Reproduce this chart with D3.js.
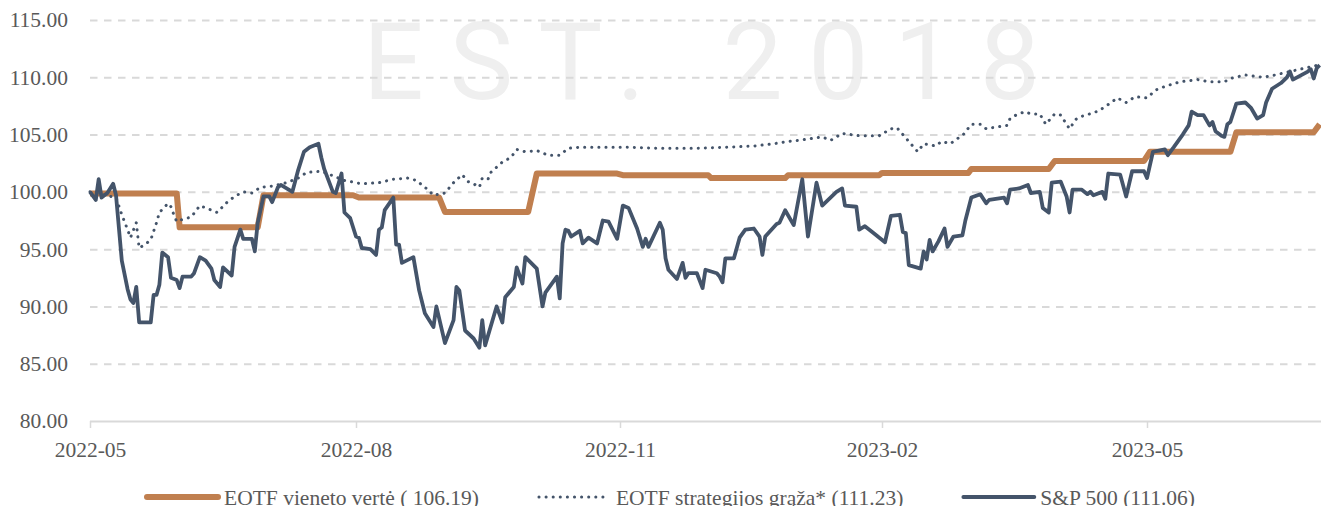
<!DOCTYPE html>
<html>
<head>
<meta charset="utf-8">
<script src="https://cdn.jsdelivr.net/npm/d3@7"></script>
<style>
  html, body { margin: 0; padding: 0; background: #fff; }
  svg { display: block; }
</style>
</head>
<body>
<svg id="chart" width="1321" height="506"></svg>
<script>
// axis categories / ticks
const xTickLabels = ['2022-05', '2022-08', '2022-11', '2023-02', '2023-05'];
const yTicks = [80, 85, 90, 95, 100, 105, 110, 115];

const seriesNames = ['EOTF vieneto vertė ( 106.19)', 'EOTF strategijos grąža* (111.23)', 'S&P 500 (111.06)'];

// EOTF unit value (step line)
const unitData = [
  ['2022-05-01', 99.85], ['2022-05-31', 99.85], ['2022-06-01', 96.9], ['2022-06-28', 96.9],
  ['2022-06-30', 99.7], ['2022-07-31', 99.7], ['2022-08-02', 99.5], ['2022-08-30', 99.5],
  ['2022-09-01', 98.25], ['2022-09-30', 98.25], ['2022-10-03', 101.6], ['2022-10-31', 101.6],
  ['2022-11-02', 101.45], ['2022-12-02', 101.45], ['2022-12-03', 101.2], ['2022-12-29', 101.2],
  ['2022-12-30', 101.45], ['2023-01-31', 101.45], ['2023-02-01', 101.65], ['2023-03-02', 101.65],
  ['2023-03-03', 102.0], ['2023-03-29', 102.0], ['2023-03-31', 102.7], ['2023-04-30', 102.7],
  ['2023-05-02', 103.5], ['2023-05-29', 103.5], ['2023-05-31', 105.2], ['2023-06-26', 105.2],
  ['2023-06-28', 105.9]
];

// EOTF strategy return (dotted)
const stratData = [
  ['2022-05-01', 100.0], ['2022-05-10', 99.5], ['2022-05-12', 98.0], ['2022-05-14', 96.7],
  ['2022-05-15', 96.0], ['2022-05-17', 97.3], ['2022-05-18', 95.1], ['2022-05-20', 95.4],
  ['2022-05-22', 95.8], ['2022-05-24', 97.3], ['2022-05-25', 98.2], ['2022-05-28', 99.0],
  ['2022-05-29', 98.7], ['2022-05-30', 98.0], ['2022-05-31', 97.4], ['2022-06-02', 97.6],
  ['2022-06-05', 97.8], ['2022-06-08', 98.8], ['2022-06-11', 98.5], ['2022-06-14', 98.2],
  ['2022-06-17', 99.0], ['2022-06-20', 99.6], ['2022-06-23', 100.0], ['2022-06-26', 99.9],
  ['2022-06-29', 100.4], ['2022-07-03', 100.5], ['2022-07-08', 100.8], ['2022-07-12', 101.2],
  ['2022-07-15', 101.7], ['2022-07-20', 101.8], ['2022-07-28', 101.0], ['2022-08-03', 100.7],
  ['2022-08-09', 100.8], ['2022-08-14', 101.1], ['2022-08-19', 101.2], ['2022-08-22', 101.0],
  ['2022-08-26', 100.2], ['2022-08-28', 99.7], ['2022-09-01', 99.9], ['2022-09-04', 100.8],
  ['2022-09-07', 101.5], ['2022-09-09', 100.9], ['2022-09-11', 100.7], ['2022-09-13', 100.4],
  ['2022-09-14', 101.2], ['2022-09-16', 101.1], ['2022-09-17', 101.7], ['2022-09-21', 102.6],
  ['2022-09-24', 103.0], ['2022-09-26', 103.7], ['2022-09-29', 103.5], ['2022-10-03', 103.6],
  ['2022-10-07', 103.2], ['2022-10-11', 103.2], ['2022-10-14', 103.8], ['2022-10-18', 103.9],
  ['2022-10-24', 103.9], ['2022-11-03', 103.9], ['2022-11-15', 103.8], ['2022-11-27', 103.8],
  ['2022-12-09', 103.9], ['2022-12-18', 104.0], ['2022-12-25', 104.2], ['2022-12-30', 104.4],
  ['2023-01-03', 104.5], ['2023-01-11', 104.8], ['2023-01-14', 104.5], ['2023-01-18', 105.1],
  ['2023-01-24', 104.9], ['2023-01-31', 104.9], ['2023-02-04', 105.5], ['2023-02-06', 105.6],
  ['2023-02-09', 104.7], ['2023-02-13', 103.5], ['2023-02-15', 104.2], ['2023-02-19', 104.0],
  ['2023-02-21', 104.4], ['2023-02-24', 104.2], ['2023-02-26', 104.6], ['2023-02-28', 104.9],
  ['2023-03-03', 105.9], ['2023-03-06', 105.9], ['2023-03-08', 105.5], ['2023-03-10', 105.6],
  ['2023-03-15', 105.8], ['2023-03-16', 106.4], ['2023-03-18', 106.7], ['2023-03-21', 107.0],
  ['2023-03-23', 106.8], ['2023-03-26', 106.8], ['2023-03-28', 105.9], ['2023-03-31', 106.8],
  ['2023-04-02', 106.7], ['2023-04-05', 105.5], ['2023-04-07', 106.3], ['2023-04-08', 106.5],
  ['2023-04-13', 106.9], ['2023-04-15', 107.1], ['2023-04-19', 107.8], ['2023-04-21', 108.2],
  ['2023-04-24', 107.8], ['2023-04-27', 108.3], ['2023-05-01', 108.2], ['2023-05-04', 108.9],
  ['2023-05-07', 109.2], ['2023-05-12', 109.6], ['2023-05-18', 109.8], ['2023-05-22', 109.6],
  ['2023-05-27', 109.6], ['2023-05-29', 109.9], ['2023-06-03', 110.2], ['2023-06-09', 110.0],
  ['2023-06-13', 110.2], ['2023-06-18', 110.5], ['2023-06-23', 110.8], ['2023-06-28', 111.1]
];

// S&P 500
const spData = [
  ['2022-05-01', 100.0], ['2022-05-03', 99.3], ['2022-05-04', 101.1], ['2022-05-05', 99.5],
  ['2022-05-07', 99.9], ['2022-05-09', 100.7], ['2022-05-10', 99.7], ['2022-05-12', 94.0],
  ['2022-05-14', 91.5], ['2022-05-15', 90.6], ['2022-05-16', 90.3], ['2022-05-17', 91.7],
  ['2022-05-18', 88.6], ['2022-05-22', 88.6], ['2022-05-23', 91.0], ['2022-05-24', 91.0],
  ['2022-05-25', 91.9], ['2022-05-26', 94.7], ['2022-05-28', 94.3], ['2022-05-29', 92.5],
  ['2022-05-31', 92.3], ['2022-06-01', 91.6], ['2022-06-02', 92.6], ['2022-06-05', 92.6],
  ['2022-06-06', 92.9], ['2022-06-08', 94.3], ['2022-06-10', 94.0], ['2022-06-12', 93.3],
  ['2022-06-13', 92.3], ['2022-06-15', 91.7], ['2022-06-16', 93.4], ['2022-06-19', 92.7],
  ['2022-06-20', 95.2], ['2022-06-22', 96.7], ['2022-06-23', 95.9], ['2022-06-26', 95.9],
  ['2022-06-27', 94.8], ['2022-06-28', 97.3], ['2022-06-30', 99.6], ['2022-07-02', 99.6],
  ['2022-07-03', 99.1], ['2022-07-05', 100.4], ['2022-07-06', 100.6], ['2022-07-10', 100.0],
  ['2022-07-12', 101.9], ['2022-07-14', 103.5], ['2022-07-16', 103.9], ['2022-07-19', 104.2],
  ['2022-07-20', 103.0], ['2022-07-21', 102.0], ['2022-07-24', 100.0], ['2022-07-25', 99.9],
  ['2022-07-27', 101.6], ['2022-07-28', 98.2], ['2022-07-30', 97.7], ['2022-08-01', 96.1],
  ['2022-08-02', 96.0], ['2022-08-03', 95.1], ['2022-08-06', 95.0], ['2022-08-08', 94.5],
  ['2022-08-09', 96.7], ['2022-08-10', 96.9], ['2022-08-11', 98.4], ['2022-08-14', 99.5],
  ['2022-08-15', 95.4], ['2022-08-16', 95.4], ['2022-08-17', 93.8], ['2022-08-21', 94.3],
  ['2022-08-23', 91.4], ['2022-08-25', 89.4], ['2022-08-28', 88.2], ['2022-08-29', 90.0],
  ['2022-09-01', 86.8], ['2022-09-04', 88.8], ['2022-09-05', 91.7], ['2022-09-06', 91.4],
  ['2022-09-08', 87.9], ['2022-09-11', 87.2], ['2022-09-13', 86.4], ['2022-09-14', 88.8],
  ['2022-09-15', 86.6], ['2022-09-19', 90.0], ['2022-09-21', 88.6], ['2022-09-22', 90.8],
  ['2022-09-25', 91.7], ['2022-09-26', 93.4], ['2022-09-28', 92.0], ['2022-09-29', 94.3],
  ['2022-10-03', 93.3], ['2022-10-05', 90.0], ['2022-10-06', 91.2], ['2022-10-10', 92.6],
  ['2022-10-11', 90.7], ['2022-10-12', 95.5], ['2022-10-13', 96.7], ['2022-10-14', 96.6],
  ['2022-10-15', 96.1], ['2022-10-18', 96.6], ['2022-10-19', 95.5], ['2022-10-21', 96.0],
  ['2022-10-24', 95.5], ['2022-10-26', 97.5], ['2022-10-28', 97.4], ['2022-10-31', 95.9],
  ['2022-11-02', 98.8], ['2022-11-04', 98.6], ['2022-11-07', 96.8], ['2022-11-09', 95.2],
  ['2022-11-10', 95.9], ['2022-11-11', 95.2], ['2022-11-15', 97.3], ['2022-11-16', 96.7],
  ['2022-11-17', 94.2], ['2022-11-18', 93.2], ['2022-11-21', 92.4], ['2022-11-23', 93.8],
  ['2022-11-24', 92.5], ['2022-11-25', 92.9], ['2022-11-28', 92.9], ['2022-11-30', 91.6],
  ['2022-12-01', 93.2], ['2022-12-05', 92.9], ['2022-12-06', 92.6], ['2022-12-07', 92.1],
  ['2022-12-08', 94.2], ['2022-12-11', 94.2], ['2022-12-13', 96.0], ['2022-12-15', 96.7],
  ['2022-12-18', 96.8], ['2022-12-20', 96.1], ['2022-12-21', 94.5], ['2022-12-22', 96.1],
  ['2022-12-26', 97.2], ['2022-12-27', 97.3], ['2022-12-29', 98.4], ['2023-01-01', 97.1],
  ['2023-01-04', 101.1], ['2023-01-06', 96.1], ['2023-01-09', 100.8], ['2023-01-11', 98.8],
  ['2023-01-16', 100.0], ['2023-01-18', 100.3], ['2023-01-19', 98.8], ['2023-01-23', 98.7],
  ['2023-01-24', 96.7], ['2023-01-26', 97.0], ['2023-01-29', 96.4], ['2023-02-02', 95.6],
  ['2023-02-04', 97.9], ['2023-02-07', 98.0], ['2023-02-08', 96.5], ['2023-02-09', 96.4],
  ['2023-02-10', 93.6], ['2023-02-14', 93.3], ['2023-02-15', 94.8], ['2023-02-16', 94.1],
  ['2023-02-17', 95.8], ['2023-02-18', 94.8], ['2023-02-20', 95.7], ['2023-02-22', 96.8],
  ['2023-02-23', 95.2], ['2023-02-25', 96.1], ['2023-02-28', 96.2], ['2023-03-01', 97.5],
  ['2023-03-03', 99.5], ['2023-03-06', 99.8], ['2023-03-08', 99.0], ['2023-03-09', 99.3],
  ['2023-03-14', 99.5], ['2023-03-15', 99.0], ['2023-03-16', 100.2], ['2023-03-19', 100.3],
  ['2023-03-22', 100.6], ['2023-03-23', 99.9], ['2023-03-26', 100.0], ['2023-03-27', 98.6],
  ['2023-03-29', 98.2], ['2023-03-30', 100.8], ['2023-04-02', 100.9], ['2023-04-04', 99.6],
  ['2023-04-05', 98.2], ['2023-04-06', 100.2], ['2023-04-09', 100.2], ['2023-04-11', 99.8],
  ['2023-04-12', 100.0], ['2023-04-13', 99.7], ['2023-04-16', 100.0], ['2023-04-17', 99.4],
  ['2023-04-18', 101.6], ['2023-04-22', 101.5], ['2023-04-24', 99.6], ['2023-04-26', 101.8],
  ['2023-04-30', 101.8], ['2023-05-01', 101.2], ['2023-05-03', 103.5], ['2023-05-05', 103.6],
  ['2023-05-07', 103.7], ['2023-05-08', 103.2], ['2023-05-10', 103.9], ['2023-05-13', 105.0],
  ['2023-05-15', 105.8], ['2023-05-16', 107.0], ['2023-05-18', 106.7], ['2023-05-20', 106.7],
  ['2023-05-22', 105.8], ['2023-05-23', 106.1], ['2023-05-24', 105.3], ['2023-05-26', 104.9],
  ['2023-05-27', 104.8], ['2023-05-28', 105.9], ['2023-05-29', 106.1], ['2023-05-31', 107.7],
  ['2023-06-03', 107.8], ['2023-06-05', 107.3], ['2023-06-07', 106.4], ['2023-06-09', 106.7],
  ['2023-06-10', 107.8], ['2023-06-12', 109.0], ['2023-06-15', 109.5], ['2023-06-17', 110.0],
  ['2023-06-18', 110.5], ['2023-06-19', 109.8], ['2023-06-24', 110.5], ['2023-06-25', 110.7],
  ['2023-06-26', 109.9], ['2023-06-27', 110.8], ['2023-06-28', 111.06]
];

const svg = d3.select('#chart');
const width = +svg.attr('width');
const height = +svg.attr('height');

const margin = { top: 20, right: 0, bottom: 85, left: 90 };
const innerRight = width - margin.right;
const innerBottom = height - margin.bottom;

const parse = d3.timeParse('%Y-%m');
const parseDay = d3.timeParse('%Y-%m-%d');
const tickDates = xTickLabels.map(parse);

const textColor = '#595959';
const gridColor = '#d9d9d9';
const font = '"Liberation Serif", serif';

// the source axis is a trading-day axis, so the quarterly ticks are not evenly spaced in days
const xScale = d3.scaleTime()
  .domain(tickDates)
  .range([margin.left, 356, 620, 882, 1147]);

const yScale = d3.scaleLinear()
  .domain([80, 115])
  .range([innerBottom, margin.top]);

// watermark
svg.append('text')
  .attr('x', 363)
  .attr('y', 99)
  .attr('textLength', 677)
  .attr('lengthAdjust', 'spacing')
  .attr('fill', '#efefef')
  .style('font-family', 'Roboto, "Open Sans", sans-serif')
  .style('font-weight', 400)
  .style('font-size', '107px')
  .text('EST. 2018');

// gridlines
const yAxis = d3.axisLeft(yScale)
  .tickValues(yTicks)
  .tickSize(-(innerRight - margin.left))
  .tickPadding(22)
  .tickFormat(d3.format('.2f'));

const yAxisG = svg.append('g')
  .attr('transform', `translate(${margin.left},0)`)
  .call(yAxis);

yAxisG.select('.domain').remove();
yAxisG.selectAll('.tick line')
  .attr('stroke', gridColor)
  .attr('stroke-width', 2)
  .attr('stroke-dasharray', d => d === 80 ? null : '7.5,6.5');
yAxisG.selectAll('.tick text')
  .attr('fill', textColor)
  .style('font-family', font)
  .style('font-size', '21.5px');

const xAxis = d3.axisBottom(xScale)
  .tickValues(tickDates)
  .tickSize(7)
  .tickPadding(14)
  .tickFormat(d3.timeFormat('%Y-%m'));

const xAxisG = svg.append('g')
  .attr('transform', `translate(0,${innerBottom})`)
  .call(xAxis);

xAxisG.select('.domain').remove();
xAxisG.selectAll('.tick line')
  .attr('stroke', gridColor)
  .attr('stroke-width', 1.5);
xAxisG.selectAll('.tick text')
  .attr('fill', textColor)
  .style('font-family', font)
  .style('font-size', '21.5px');

// lines
svg.append('clipPath').attr('id', 'plotClip')
  .append('rect')
  .attr('x', margin.left - 5).attr('y', 0)
  .attr('width', innerRight - margin.left + 5).attr('height', innerBottom);

const line = d3.line()
  .x(d => xScale(parseDay(d[0])))
  .y(d => yScale(d[1]));

const plot = svg.append('g').attr('clip-path', 'url(#plotClip)');

const styles = [
  { data: unitData, color: '#c07f4f', width: 6, dash: null, cap: 'butt' },
  { data: stratData, color: '#44546a', width: 3, dash: '0.1,7', cap: 'round' },
  { data: spData, color: '#44546a', width: 3.8, dash: null, cap: 'butt' }
];

styles.forEach(s => {
  plot.append('path')
    .datum(s.data)
    .attr('fill', 'none')
    .attr('stroke', s.color)
    .attr('stroke-width', s.width)
    .attr('stroke-linejoin', 'round')
    .attr('stroke-linecap', s.cap)
    .attr('stroke-dasharray', s.dash)
    .attr('d', line);
});

// legend (cut by the bottom edge, as in the source)
const legendG = svg.append('g').attr('transform', `translate(147,${height - 9})`);
let lx = 0;
seriesNames.forEach((name, i) => {
  const s = styles[i];
  legendG.append('line')
    .attr('x1', lx).attr('x2', lx + 71)
    .attr('y1', 0).attr('y2', 0)
    .attr('stroke', s.color)
    .attr('stroke-width', s.width)
    .attr('stroke-linecap', 'round')
    .attr('stroke-dasharray', s.dash);
  const t = legendG.append('text')
    .attr('x', lx + 77)
    .attr('y', 8)
    .attr('fill', textColor)
    .style('font-family', font)
    .style('font-size', '21.5px')
    .text(name);
  lx += 77 + t.node().getComputedTextLength() + 60;
});
</script>
</body>
</html>
